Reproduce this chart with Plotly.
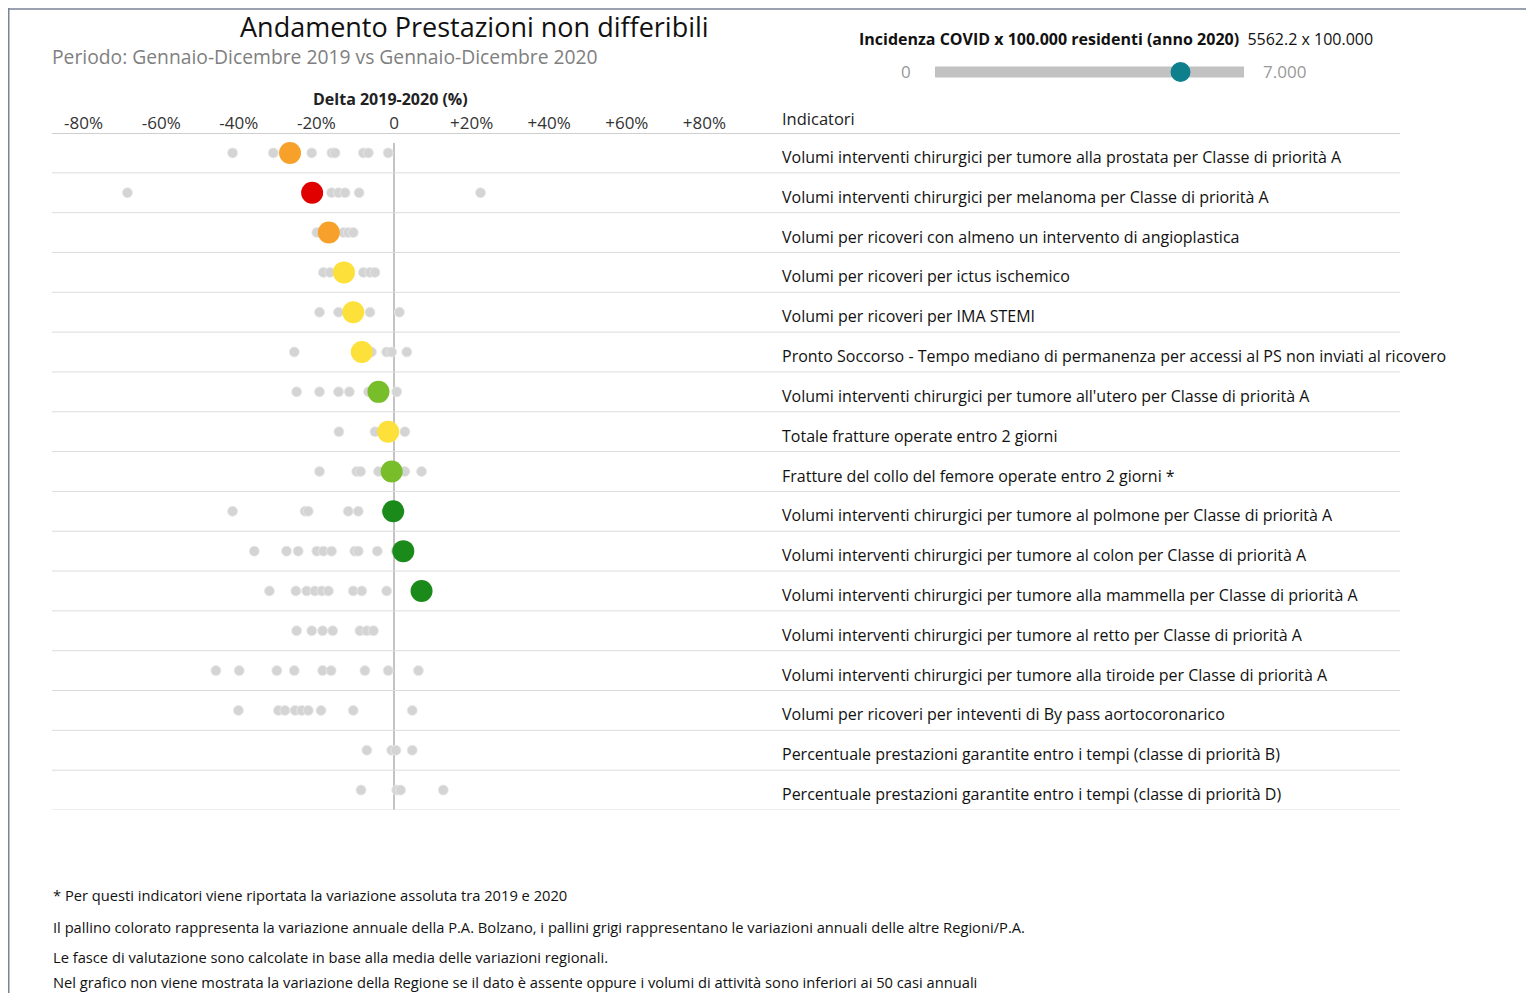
import plotly.graph_objects as go

# page body has an 8px margin: the figure is placed at (8, 8)
OFF = 8
W, H = 1534 - OFF, 993 - OFF

indicators = [
    "Volumi interventi chirurgici per tumore alla prostata per Classe di priorità A",
    "Volumi interventi chirurgici per melanoma per Classe di priorità A",
    "Volumi per ricoveri con almeno un intervento di angioplastica",
    "Volumi per ricoveri per ictus ischemico",
    "Volumi per ricoveri per IMA STEMI",
    "Pronto Soccorso - Tempo mediano di permanenza per accessi al PS non inviati al ricovero",
    "Volumi interventi chirurgici per tumore all'utero per Classe di priorità A",
    "Totale fratture operate entro 2 giorni",
    "Fratture del collo del femore operate entro 2 giorni *",
    "Volumi interventi chirurgici per tumore al polmone per Classe di priorità A",
    "Volumi interventi chirurgici per tumore al colon per Classe di priorità A",
    "Volumi interventi chirurgici per tumore alla mammella per Classe di priorità A",
    "Volumi interventi chirurgici per tumore al retto per Classe di priorità A",
    "Volumi interventi chirurgici per tumore alla tiroide per Classe di priorità A",
    "Volumi per ricoveri per inteventi di By pass aortocoronarico",
    "Percentuale prestazioni garantite entro i tempi (classe di priorità B)",
    "Percentuale prestazioni garantite entro i tempi (classe di priorità D)",
]

# Delta 2019-2020 (%) for P.A. Bolzano (None = not shown)
bolzano_values = [-26.8, -21.1, -16.8, -12.9, -10.5, -8.3, -4.0, -1.5, -0.6, -0.2,
                  2.4, 7.1, None, None, None, None, None]
bolzano_colors = ["#F7A12A", "#E00000", "#F7A12A", "#FDE03A", "#FDE03A", "#FDE03A",
                  "#78BE2A", "#FDE03A", "#78BE2A", "#1A8A1A", "#1A8A1A", "#1A8A1A",
                  None, None, None, None, None]

# Delta 2019-2020 (%) for the other Regions/P.A.
other_regions = [
    [-41.6, -31.1, -21.2, -16.0, -15.2, -7.9, -6.6, -1.5],
    [-68.7, -16.1, -14.3, -12.6, -9.0, 22.3],
    [-19.9, -13.0, -11.8, -10.5],
    [-18.2, -16.5, -7.9, -6.2, -4.9],
    [-19.2, -14.3, -6.2, 1.4],
    [-25.7, -5.8, -1.9, -0.6, 3.3],
    [-25.1, -19.2, -14.3, -11.5, -6.6, 0.7],
    [-14.2, -4.9, 2.8],
    [-19.2, -9.6, -8.6, -4.0, 2.8, 7.1],
    [-41.6, -22.9, -22.1, -11.8, -9.2, -1.9],
    [-36.0, -27.7, -24.7, -19.9, -18.2, -16.1, -10.1, -9.2, -4.3, 0.5],
    [-32.1, -25.3, -22.5, -20.4, -18.6, -16.9, -10.5, -8.3, -1.9],
    [-25.1, -21.2, -18.4, -15.8, -8.8, -7.0, -5.3],
    [-45.9, -39.9, -30.2, -25.7, -18.4, -16.2, -7.5, -1.5, 6.3],
    [-40.1, -29.8, -28.1, -25.5, -23.8, -22.1, -18.8, -10.5, 4.7],
    [-7.0, -0.6, 0.5, 4.7],
    [-8.5, 0.7, 1.7, 12.7],
]

tick_vals = [-80, -60, -40, -20, 0, 20, 40, 60, 80]
tick_text = ["-80%", "-60%", "-40%", "-20%", "0", "+20%", "+40%", "+60%", "+80%"]

covid_incidence = 5562.2
slider_max = 7000

FONT = "Open Sans"


def px(x):
    return (x - OFF) / W


def py(y):
    return 1 - (y - OFF) / H


gx, gy = [], []
for i, vals in enumerate(other_regions):
    for v in vals:
        gx.append(v)
        gy.append(i)

bx, by, bc = [], [], []
for i, (v, c) in enumerate(zip(bolzano_values, bolzano_colors)):
    if v is not None:
        bx.append(v)
        by.append(i)
        bc.append(c)

fig = go.Figure()
fig.add_trace(go.Scatter(
    x=gx, y=gy, mode="markers", hoverinfo="x",
    marker=dict(size=10, color="#D4D4D4", line=dict(color="#E8E8E8", width=0.8)),
    showlegend=False))
fig.add_trace(go.Scatter(
    x=bx, y=by, mode="markers", hoverinfo="x",
    marker=dict(size=22, color=bc, line=dict(width=0)),
    showlegend=False))

# slider knob
fig.add_trace(go.Scatter(
    x=[covid_incidence], y=[0.5], xaxis="x2", yaxis="y2", mode="markers",
    marker=dict(size=20, color="#0E7F8C"), showlegend=False, hoverinfo="x"))

n = len(indicators)
ppp = 3.88  # pixels per percent
x_left_px, x_right_px, zero_px = 52, 760, 394
xr = [(x_left_px - zero_px) / ppp, (x_right_px - zero_px) / ppp]

fig.update_layout(
    width=W, height=H,
    margin=dict(l=0, r=0, t=0, b=0),
    paper_bgcolor="white", plot_bgcolor="white",
    font=dict(family=FONT, color="#222"),
    xaxis=dict(domain=[px(x_left_px), px(x_right_px)], range=xr, side="top",
               tickvals=tick_vals, ticktext=tick_text, showgrid=False, zeroline=False,
               showline=False, ticks="", tickfont=dict(size=17, color="#333"),
               fixedrange=True),
    yaxis=dict(domain=[py(810), py(133)], range=[n - 0.5, -0.5], showticklabels=False,
               showgrid=False, zeroline=False, showline=False, fixedrange=True),
    xaxis2=dict(domain=[px(935), px(1244)], range=[0, slider_max], anchor="y2",
                visible=False, fixedrange=True),
    yaxis2=dict(domain=[py(84), py(60)], range=[0, 1], anchor="x2", visible=False,
                fixedrange=True),
)

shapes = []
# header line
shapes.append(dict(type="line", xref="paper", yref="y", x0=px(52), x1=px(1400),
                   y0=-0.5, y1=-0.5, line=dict(color="#A0A0A0", width=1.2)))
for i in range(n):
    shapes.append(dict(type="line", xref="paper", yref="y", x0=px(52), x1=px(1400),
                       y0=i + 0.5, y1=i + 0.5, line=dict(color="#DCDCDC", width=1)))
# zero line
shapes.append(dict(type="line", xref="x", yref="y", x0=0, x1=0, y0=-0.25, y1=n - 0.5,
                   line=dict(color="#888888", width=1), layer="below"))
# slider bar
shapes.append(dict(type="rect", xref="x2", yref="y2", x0=0, x1=slider_max, y0=0.27, y1=0.73,
                   line=dict(width=0), fillcolor="#C2C2C2", layer="below"))
# frame
shapes.append(dict(type="line", xref="paper", yref="paper", x0=0.0005, x1=0.0005, y0=0, y1=1,
                   line=dict(color="#7A8296", width=1.5)))
shapes.append(dict(type="line", xref="paper", yref="paper", x0=0, x1=1, y0=0.999, y1=0.999,
                   line=dict(color="#7A8296", width=1.5)))
fig.update_layout(shapes=shapes)

ann = []
ann.append(dict(text="Andamento Prestazioni non differibili", x=px(239), y=py(26), xref="paper",
                yref="paper", xanchor="left", yanchor="middle", showarrow=False, borderpad=0,
                font=dict(size=27, color="#111", family=FONT)))
ann.append(dict(text="Periodo: Gennaio-Dicembre 2019 vs Gennaio-Dicembre 2020", x=px(51), y=py(57),
                xref="paper", yref="paper", xanchor="left", yanchor="middle", showarrow=False,
                borderpad=0, font=dict(size=19.3, color="#808080", family=FONT)))
ann.append(dict(text="<b>Delta 2019-2020 (%)</b>", x=px(390), y=py(99), xref="paper", yref="paper",
                xanchor="center", yanchor="middle", showarrow=False,
                font=dict(size=16, color="#222", family=FONT)))
ann.append(dict(text="Indicatori", x=px(780), y=py(118), xref="paper", yref="paper",
                xanchor="left", yanchor="middle", showarrow=False,
                font=dict(size=16.5, color="#222", family=FONT)))
ann.append(dict(text="<b>Incidenza COVID x 100.000 residenti (anno 2020)</b>  "
                     f"{covid_incidence:.1f} x 100.000",
                x=px(857), y=py(39), xref="paper", yref="paper", xanchor="left", yanchor="middle",
                showarrow=False, font=dict(size=16, color="#111", family=FONT)))
ann.append(dict(text="0", x=0, y=0.5, xref="x2", yref="y2", xanchor="right", yanchor="middle",
                xshift=-22, showarrow=False, font=dict(size=17, color="#999", family=FONT)))
ann.append(dict(text="7.000", x=slider_max, y=0.5, xref="x2", yref="y2", xanchor="left",
                yanchor="middle", xshift=17, showarrow=False,
                font=dict(size=17, color="#999", family=FONT)))
for i, label in enumerate(indicators):
    ann.append(dict(text=label, x=px(780), y=i, xref="paper", yref="y", xanchor="left",
                    yanchor="middle", yshift=-4, showarrow=False,
                    font=dict(size=16, color="#111", family=FONT)))

footnotes = [
    "* Per questi indicatori viene riportata la variazione assoluta tra 2019 e 2020",
    "Il pallino colorato rappresenta la variazione annuale della P.A. Bolzano, i pallini grigi rappresentano le variazioni annuali delle altre Regioni/P.A.",
    "Le fasce di valutazione sono calcolate in base alla media delle variazioni regionali.",
    "Nel grafico non viene mostrata la variazione della Regione se il dato è assente oppure i volumi di attività sono inferiori ai 50 casi annuali",
]
foot_y = [895, 927, 957, 982]
for t, yy in zip(footnotes, foot_y):
    ann.append(dict(text=t, x=px(51), y=py(yy), xref="paper", yref="paper", xanchor="left",
                    yanchor="middle", showarrow=False, font=dict(size=14.7, color="#111", family=FONT)))
fig.update_layout(annotations=ann)

fig.write_html("out.html")
